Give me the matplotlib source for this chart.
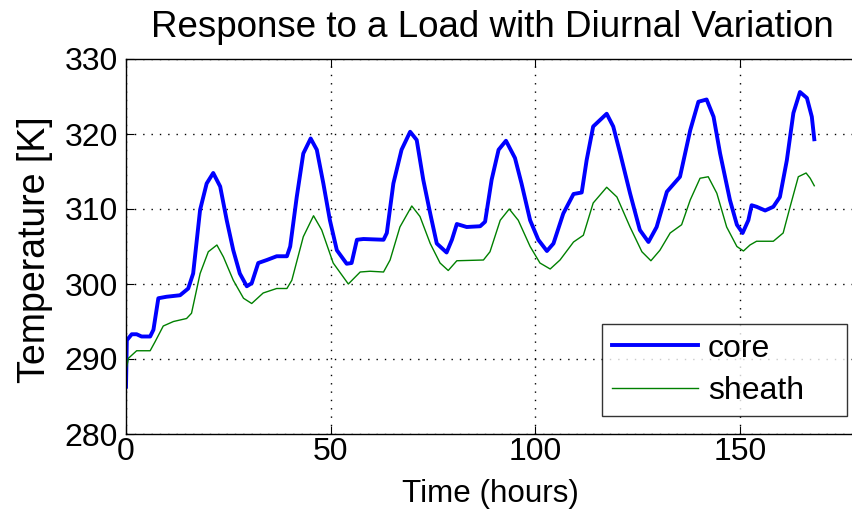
import matplotlib
matplotlib.use("Agg")
import matplotlib.pyplot as plt

plt.rcParams['font.family'] = ['Liberation Sans', 'DejaVu Sans']

# Time (hours) and temperatures (K)
t_core = [0, 0.2, 1.4, 2.6, 3.8, 5.9, 6.7, 7.9, 9.9, 13.2, 15.2, 16.4, 18.1, 19.7, 21.3,
          23.0, 24.6, 26.2, 27.8, 29.5, 30.7, 32.3, 34.4, 36.8, 39.3, 40.1, 41.7, 43.3,
          45.1, 46.6, 48.2, 49.8, 51.5, 53.9, 55.1, 56.4, 58.0, 62.9, 63.7, 65.3, 67.3,
          69.4, 71.0, 72.6, 74.3, 75.9, 78.3, 79.6, 80.8, 83.2, 86.5, 87.7, 89.3, 91.0,
          92.8, 95.0, 96.6, 98.7, 100.7, 102.8, 104.4, 106.8, 109.3, 111.3, 112.5, 114.1,
          117.4, 119.0, 120.7, 123.1, 125.5, 127.6, 129.6, 132.1, 135.3, 137.8, 139.8,
          141.8, 143.5, 145.1, 147.5, 149.2, 150.6, 152.0, 152.8, 154.0, 156.1, 158.1,
          159.7, 161.4, 163.0, 164.6, 166.3, 167.5, 168.1]
core = [286.3, 292.5, 293.3, 293.3, 293.0, 293.0, 293.9, 298.1, 298.3, 298.5, 299.4, 301.4,
        309.9, 313.4, 314.8, 313.0, 308.5, 304.5, 301.4, 299.7, 300.1, 302.8, 303.2, 303.7,
        303.7, 305.0, 311.6, 317.4, 319.4, 317.9, 313.4, 308.5, 304.5, 302.7, 302.8, 305.9,
        306.0, 305.9, 306.8, 313.4, 317.9, 320.3, 319.2, 313.9, 309.4, 305.4, 304.2, 305.9,
        308.0, 307.6, 307.7, 308.3, 313.9, 317.9, 319.1, 316.8, 313.4, 308.5, 305.9, 304.4,
        305.4, 309.4, 312.0, 312.2, 316.5, 321.0, 322.7, 321.0, 317.4, 312.1, 307.2, 305.6,
        307.6, 312.3, 314.3, 320.5, 324.3, 324.6, 322.3, 317.4, 311.2, 307.9, 306.8, 308.5,
        310.5, 310.3, 309.8, 310.3, 311.6, 316.5, 322.8, 325.6, 324.8, 322.3, 319.3]

t_sheath = [0, 0.6, 2.6, 5.9, 7.1, 9.1, 11.6, 14.8, 16.0, 18.1, 20.1, 22.2, 23.8, 26.2,
            28.7, 30.7, 33.5, 36.8, 39.3, 40.5, 43.3, 45.8, 47.8, 50.6, 54.3, 57.2, 59.6,
            62.9, 64.5, 66.9, 69.8, 71.8, 74.3, 76.7, 78.7, 80.8, 87.3, 88.9, 91.4, 93.6,
            95.8, 98.7, 101.1, 103.6, 106.0, 109.3, 111.7, 114.1, 117.4, 119.9, 123.1,
            126.0, 128.2, 130.4, 132.9, 135.7, 137.8, 140.2, 142.2, 144.3, 146.7, 149.2,
            150.8, 152.4, 154.0, 158.1, 160.5, 162.2, 164.2, 166.1, 167.1, 168.1]
sheath = [288.5, 290.1, 291.1, 291.1, 292.3, 294.4, 295.0, 295.4, 296.1, 301.4, 304.3, 305.2,
          303.6, 300.5, 298.1, 297.4, 298.8, 299.4, 299.4, 300.5, 306.3, 309.1, 307.2, 302.8,
          300.0, 301.6, 301.7, 301.6, 303.2, 307.6, 310.4, 309.0, 305.4, 302.8, 301.8, 303.1,
          303.2, 304.3, 308.5, 310.0, 308.5, 305.0, 302.8, 302.0, 303.2, 305.6, 306.5, 310.8,
          312.9, 311.6, 307.6, 304.3, 303.1, 304.5, 306.8, 307.9, 311.2, 314.1, 314.3, 312.1,
          307.6, 305.0, 304.4, 305.2, 305.7, 305.7, 306.8, 310.3, 314.3, 314.8, 314.1, 313.1]

x_ticks = [0, 50, 100, 150]
y_ticks = [280, 290, 300, 310, 320, 330]

W, H = 852, 515
L, R, T, B = 126, 863, 59, 434  # axes box in pixels (right edge lies past the image)

fig = plt.figure(figsize=(W / 100, H / 100), dpi=100)
ax = fig.add_axes([L / W, (H - B) / H, (R - L) / W, (B - T) / H])

def ax_x(px):
    return (px - L) / (R - L)

def ax_y(py):
    return (B - py) / (B - T)

ax.plot(t_core, core, color='#0000ff', lw=2.8, label='core')
ax.plot(t_sheath, sheath, color='#008000', lw=1.0, label='sheath')

ax.set_xlim(0, 180)
ax.set_ylim(280, 330)
ax.set_xticks(x_ticks)
ax.set_yticks(y_ticks)
ax.grid(True, color='black', linestyle=(0, (1, 5)), linewidth=1.0)
ax.tick_params(direction='in', length=6, width=0.8, top=True, right=True,
               labelsize=23, colors='black')
ax.tick_params(axis='x', pad=2)
ax.tick_params(axis='y', pad=6)
for s in ax.spines.values():
    s.set_linewidth(1.0)

ax.set_title('Response to a Load with Diurnal Variation', fontsize=26.5,
             x=ax_x(492), y=ax_y(37), pad=0, va='baseline', ha='center')

ax.set_xlabel('Time (hours)', fontsize=22.6, va='baseline')
ax.xaxis.set_label_coords(ax_x(490), ax_y(502))
ax.set_ylabel('Temperature [K]', fontsize=27, va='center')
ax.yaxis.set_label_coords(ax_x(35), ax_y(250))

x0, x1, y0, y1 = ax_x(602), ax_x(847), ax_y(416), ax_y(323)
leg = ax.legend(loc='lower left', bbox_to_anchor=(x0, y0, x1 - x0, y1 - y0), mode='expand',
                fontsize=23, frameon=True, fancybox=False, edgecolor='black',
                handlelength=2.7, borderpad=0.3, labelspacing=0.4, handletextpad=0.31,
                borderaxespad=0)
leg.get_frame().set_linewidth(1.0)

fig.savefig('out.png', dpi=100)
